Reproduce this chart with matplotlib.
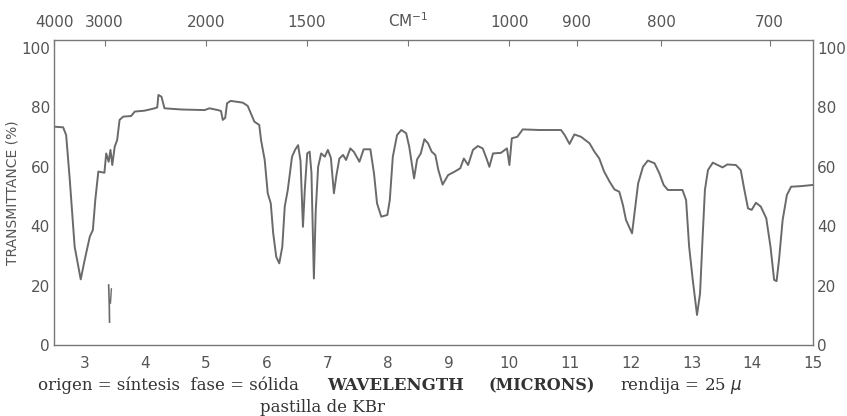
import matplotlib
matplotlib.use("Agg")
import matplotlib.pyplot as plt

# spectrum trace (wavelength in microns, transmittance %)
wavelength = [2.51, 2.65, 2.70, 2.76, 2.84, 2.94, 3.005, 3.09, 3.14, 3.18, 3.23, 3.33, 3.36, 3.40,
              3.43, 3.46, 3.50, 3.54, 3.58, 3.64, 3.77, 3.83, 3.99, 4.16, 4.20, 4.22, 4.27, 4.32,
              4.60, 4.98, 5.06, 5.20, 5.25, 5.28, 5.32, 5.35, 5.41, 5.61, 5.69, 5.80, 5.88, 5.91,
              5.97, 6.02, 6.07, 6.11, 6.16, 6.21, 6.26, 6.30, 6.35, 6.42, 6.47, 6.52, 6.56, 6.60,
              6.63, 6.67, 6.71, 6.74, 6.78, 6.81, 6.85, 6.90, 6.96, 7.01, 7.06, 7.11, 7.15, 7.20,
              7.26, 7.31, 7.38, 7.44, 7.53, 7.60, 7.71, 7.77, 7.82, 7.89, 7.99, 8.03, 8.08, 8.15,
              8.22, 8.30, 8.35, 8.43, 8.48, 8.54, 8.60, 8.66, 8.72, 8.78, 8.83, 8.90, 8.99, 9.10,
              9.19, 9.25, 9.32, 9.40, 9.48, 9.56, 9.62, 9.67, 9.73, 9.86, 9.96, 10.00, 10.04, 10.13,
              10.22, 10.49, 10.85, 10.91, 10.99, 11.07, 11.18, 11.32, 11.40, 11.48, 11.56, 11.65,
              11.73, 11.81, 11.87, 11.92, 12.02, 12.06, 12.12, 12.20, 12.28, 12.39, 12.47, 12.54,
              12.61, 12.85, 12.91, 12.96, 13.02, 13.09, 13.14, 13.18, 13.22, 13.27, 13.35, 13.43,
              13.51, 13.59, 13.73, 13.81, 13.87, 13.93, 13.99, 14.06, 14.14, 14.23, 14.30, 14.36,
              14.40, 14.44, 14.50, 14.57, 14.64, 14.81, 15.0]
transmittance = [73.5, 73.3, 70.7, 55.6, 33.1, 22.1, 28.6, 36.5, 38.7, 48.8, 58.4, 58.0, 64.5, 61.7,
                 65.7, 60.6, 66.8, 69.0, 75.8, 76.9, 77.1, 78.6, 78.9, 79.7, 80.0, 84.2, 83.6, 79.7,
                 79.3, 79.1, 79.7, 79.1, 78.8, 75.8, 76.5, 81.4, 82.2, 81.6, 80.5, 75.2, 74.1, 69.0,
                 62.3, 51.1, 47.7, 37.6, 29.7, 27.5, 33.1, 46.6, 52.2, 63.4, 65.7, 67.3, 62.0, 39.8,
                 52.2, 64.5, 65.1, 58.0, 22.4, 45.0, 60.0, 64.5, 63.4, 65.7, 63.0, 51.1, 57.0, 62.8,
                 64.0, 62.3, 66.2, 65.0, 61.7, 65.9, 65.9, 57.8, 47.7, 43.2, 43.8, 48.8, 63.4, 70.7,
                 72.4, 71.3, 66.8, 56.1, 62.5, 64.5, 69.3, 67.9, 65.1, 64.0, 58.9, 54.0, 57.2, 58.4,
                 59.5, 62.8, 60.6, 65.7, 67.0, 66.2, 63.0, 60.0, 64.5, 64.7, 66.2, 60.6, 69.6, 70.1,
                 72.6, 72.4, 72.4, 70.7, 67.7, 70.9, 70.1, 67.9, 65.1, 62.8, 58.4, 55.0,
                 52.4, 51.6, 47.1, 42.1, 37.6, 44.3, 54.4, 60.0, 62.1, 61.2, 57.8, 53.9,
                 52.2, 52.2, 48.8, 33.1, 21.9, 10.1, 17.4, 35.4, 52.2, 58.9, 61.4, 60.6,
                 59.8, 60.8, 60.6, 58.9, 52.2, 46.0, 45.5, 47.9, 46.6, 42.7, 33.1, 21.9,
                 21.5, 28.6, 42.1, 50.5, 53.3, 53.5, 53.9]

# small separate stroke near 3.4 microns
mark_a_wl = [3.40, 3.41, 3.415]
mark_a_t = [20.2, 14.0, 7.7]
mark_b_wl = [3.445, 3.43]
mark_b_t = [18.9, 14.1]

micron_ticks = list(range(3, 16))
wavenumber_ticks = [4000, 3000, 2000, 1500, 1200, 1000, 900, 800, 700]
wavenumber_labels = ["4000", "3000", "2000", "1500", "CM$^{-1}$", "1000", "900", "800", "700"]
y_ticks = [0, 20, 40, 60, 80, 100]

ink = "#555555"
fig = plt.figure(figsize=(8.47, 4.16), dpi=100)
ax = fig.add_axes([54 / 847, 1 - 345 / 416, (813 - 54) / 847, (345 - 40) / 416])

ax.plot(wavelength, transmittance, color="#6a6a6a", lw=1.4)
ax.plot(mark_a_wl, mark_a_t, color="#6a6a6a", lw=1.2)
ax.plot(mark_b_wl, mark_b_t, color="#6a6a6a", lw=1.0)

ax.set_xlim(2.5, 15.0)
ax.set_ylim(0, 102.7)
for s in ax.spines.values():
    s.set_color("#777777")
    s.set_linewidth(1.0)

ax.set_xticks(micron_ticks)
ax.set_yticks(y_ticks)
ax.tick_params(axis="x", length=0, pad=8, labelsize=11, labelcolor=ink)
ax.tick_params(axis="y", length=0, pad=3, labelsize=11, labelcolor=ink,
               left=True, right=True, labelleft=True, labelright=True)
ax.set_ylabel("TRANSMITTANCE (%)", fontsize=10, color=ink, labelpad=1)

top = ax.secondary_xaxis("top", functions=(lambda x: 10000 / x, lambda x: 10000 / x))
top.set_xticks(wavenumber_ticks)
top.set_xticklabels(wavenumber_labels)
top.tick_params(direction="in", length=4, color="#777777", pad=7, labelsize=11, labelcolor=ink)
top.spines["top"].set_visible(False)

serif = "DejaVu Serif"
base = 1 - 390 / 416
fig.text(38 / 847, base, "origen = síntesis  fase = sólida", family=serif,
         fontsize=12, color="#333333", va="baseline", ha="left")
fig.text(327 / 847, base, "WAVELENGTH", family=serif, weight="bold",
         fontsize=12, color="#333333", va="baseline", ha="left")
fig.text(488 / 847, base, "(MICRONS)", family=serif, weight="bold",
         fontsize=11.5, color="#333333", va="baseline", ha="left")
fig.text(620 / 847, base, "rendija = 25 $\\mu$", family=serif,
         fontsize=12, color="#333333", va="baseline", ha="left")
fig.text(322 / 847, 1 - 408 / 416, "pastilla de KBr", family=serif,
         fontsize=12, color="#333333", va="center", ha="center")

fig.savefig("out.png", dpi=100)
